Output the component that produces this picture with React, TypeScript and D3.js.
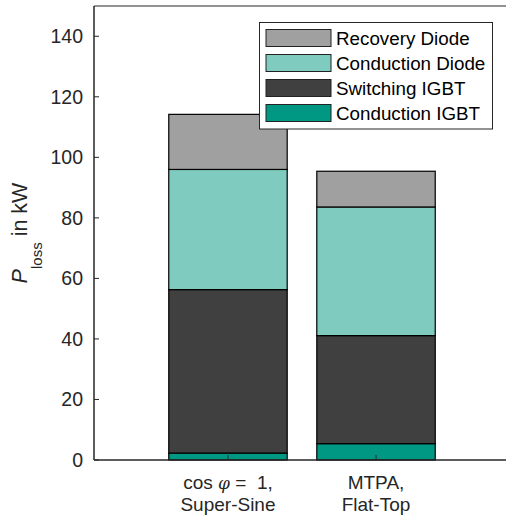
import React from "react";
import * as d3 from "d3";

const categories = ["cos φ = 1, Super-Sine", "MTPA, Flat-Top"];
const seriesNames = ["Conduction IGBT", "Switching IGBT", "Conduction Diode", "Recovery Diode"];
const conductionIGBT = [2.3, 5.4];
const switchingIGBT = [54.0, 35.7];
const conductionDiode = [39.7, 42.5];
const recoveryDiode = [18.2, 11.8];
const seriesColors = ["#009882", "#404040", "#80cbbf", "#a0a0a0"];
const yTicks = [0, 20, 40, 60, 80, 100, 120, 140];

const W = 506;
const H = 517;
const axisColor = "#262626";
const font = "'Liberation Sans', Arial, Helvetica, sans-serif";

export default function App() {
  const left = 94, right = 510, top = 6, bottom = 460;
  const x = d3.scaleLinear().domain([0.095, 2.905]).range([left, right]);
  const y = d3.scaleLinear().domain([0, 150]).range([bottom, top]);
  const barW = x(1.4) - x(0.6);

  const rows = categories.map((c, i) => ({
    cat: i + 1,
    "Conduction IGBT": conductionIGBT[i],
    "Switching IGBT": switchingIGBT[i],
    "Conduction Diode": conductionDiode[i],
    "Recovery Diode": recoveryDiode[i],
  }));
  const stack = d3.stack<any>().keys(seriesNames)(rows);

  const legendOrder = [3, 2, 1, 0];
  const lgX = 259.5, lgY = 22.5, lgW = 233, lgH = 106.5;

  const xLabels = [
    ["cos ", "φ", " =\u00a0\u00a01,", "Super-Sine"],
    ["MTPA,", "", "", "Flat-Top"],
  ];

  return (
    <svg width={W} height={H} style={{ display: "block", position: "absolute", left: 0, top: 0 }} fontFamily={font}>
      <rect x={0} y={0} width={W} height={H} fill="#fff" />
      {stack.map((s, si) =>
        s.map((d, i) => (
          <rect
            key={si + "-" + i}
            x={x(rows[i].cat) - barW / 2}
            y={y(d[1])}
            width={barW}
            height={y(d[0]) - y(d[1])}
            fill={seriesColors[si]}
            stroke="#000"
            strokeWidth={1.2}
          />
        ))
      )}
      {/* axes */}
      <line x1={left} x2={right} y1={top} y2={top} stroke={axisColor} strokeWidth={1} />
      <line x1={left} x2={right} y1={bottom} y2={bottom} stroke={axisColor} strokeWidth={1.5} />
      <line x1={left} x2={left} y1={top} y2={bottom} stroke={axisColor} strokeWidth={1.5} />
      {yTicks.map((t) => (
        <g key={t}>
          <line x1={left} x2={left + 5} y1={y(t)} y2={y(t)} stroke={axisColor} />
          <text x={left - 11} y={y(t)} dy="0.35em" textAnchor="end" fontSize={19.5} fill={axisColor}>
            {t}
          </text>
        </g>
      ))}
      {[1, 2].map((c, i) => (
        <g key={c}>
          <line x1={x(c)} x2={x(c)} y1={bottom} y2={bottom - 5} stroke={axisColor} />
          <text x={x(c)} y={489} textAnchor="middle" fontSize={19} fill={axisColor}>
            {xLabels[i][0]}
            {xLabels[i][1] && <tspan fontStyle="italic" fontFamily="'DejaVu Serif', serif" fontSize={17}>{xLabels[i][1]}</tspan>}
            {xLabels[i][2]}
          </text>
          <text x={x(c)} y={510.5} textAnchor="middle" fontSize={19} fill={axisColor}>
            {xLabels[i][3]}
          </text>
        </g>
      ))}
      {/* y label */}
      <text transform={`translate(27,233) rotate(-90)`} textAnchor="middle" fontSize={21.5} fill={axisColor}>
        <tspan fontStyle="italic">P</tspan>
        <tspan fontSize={15} dy={15}>loss</tspan>
        <tspan dy={-15}> in kW</tspan>
      </text>
      {/* legend */}
      <rect x={lgX} y={lgY} width={lgW} height={lgH} fill="#fff" stroke={axisColor} strokeWidth={1} />
      {legendOrder.map((si, k) => {
        const cy = 38 + k * 25;
        return (
          <g key={si}>
            <rect x={266} y={cy - 8.5} width={65} height={17} fill={seriesColors[si]} stroke="#222" strokeWidth={1} />
            <text x={336} y={cy} dy="0.35em" fontSize={18.8} fill="#000">
              {seriesNames[si]}
            </text>
          </g>
        );
      })}
    </svg>
  );
}
